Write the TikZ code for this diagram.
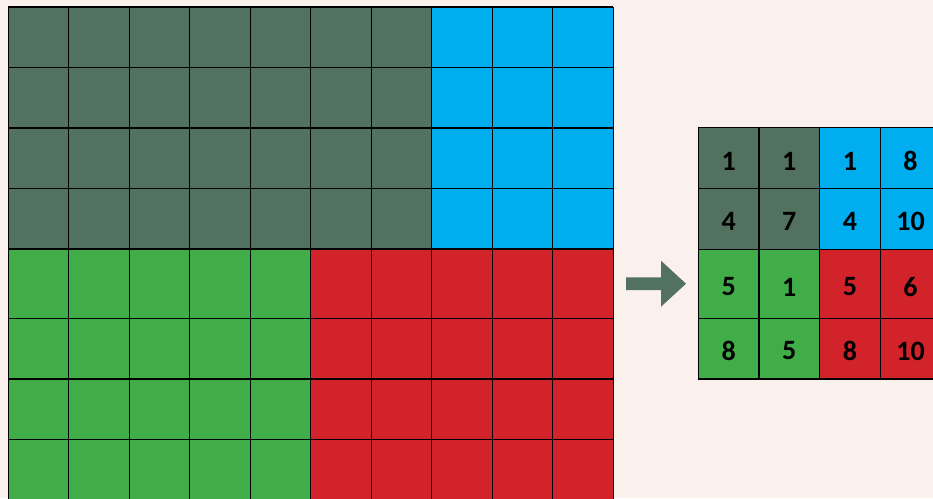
\documentclass[tikz,border=0pt]{standalone}
\usepackage{fontspec}
\setmainfont{Carlito}
\definecolor{bgpink}{HTML}{FAF0EC}
\definecolor{slate}{HTML}{53715F}
\definecolor{sky}{HTML}{00ADEF}
\definecolor{leaf}{HTML}{41AD49}
\definecolor{brick}{HTML}{D2232A}
\tikzset{
	gridline/.style={draw=black, line width=1.3pt},
	val/.style={font=\bfseries\fontsize{28}{30}\selectfont, text=black, inner sep=0pt},
}
\begin{document}
\begin{tikzpicture}[x=1pt,y=-1pt]
	\useasboundingbox (0,0) rectangle (933,498);
	\clip (0,0) rectangle (933,498);
	\fill[bgpink] (0,0) rectangle (933,498);
	% input grid, 10 x 8
	\fill[slate] (8.3,7) rectangle (431.8,249);
	\fill[sky] (431.8,7) rectangle (613.3,249);
	\fill[leaf] (8.3,249) rectangle (310.8,500);
	\fill[brick] (310.8,249) rectangle (613.3,500);
	\foreach \i in {0,...,10}
		\draw[gridline] ({8.3+60.5*\i},7) -- ({8.3+60.5*\i},500);
	\foreach \y in {7, 67.5, 128, 188.5, 249, 318.7, 379, 439.7}
		\draw[gridline] (8.3,\y) -- (613.3,\y);
	% arrow
	\fill[slate] (626,277.3) -- (661,277.3) -- (661,260.7) -- (686,283.7)
		-- (661,306.7) -- (661,290) -- (626,290) -- cycle;
	% pooled grid, 4 x 4
	\fill[slate] (698.3,127.5) rectangle (819.7,249.3);
	\fill[sky] (819.7,127.5) rectangle (941,249.3);
	\fill[leaf] (698.3,249.3) rectangle (819.7,379);
	\fill[brick] (819.7,249.3) rectangle (941,379);
	\foreach \x in {698.3, 759, 819.7, 880.3, 941}
		\draw[gridline] (\x,127.5) -- (\x,379);
	\foreach \y in {127.5, 188.3, 249.3, 318.7, 379}
		\draw[gridline] (698.3,\y) -- (941,\y);
	\foreach \r/\y/\a/\b/\c/\d in {0/161/1/1/1/8, 1/221.5/4/7/4/10, 2/287/5/1/5/6, 3/351/8/5/8/10} {
		\node[val] (v\r0) at (728.6,\y) {\a};
		\node[val] (v\r1) at (789.3,\y) {\b};
		\node[val] (v\r2) at (850,\y) {\c};
		\node[val] (v\r3) at (910.5,\y) {\d};
	}
\end{tikzpicture}
\end{document}
